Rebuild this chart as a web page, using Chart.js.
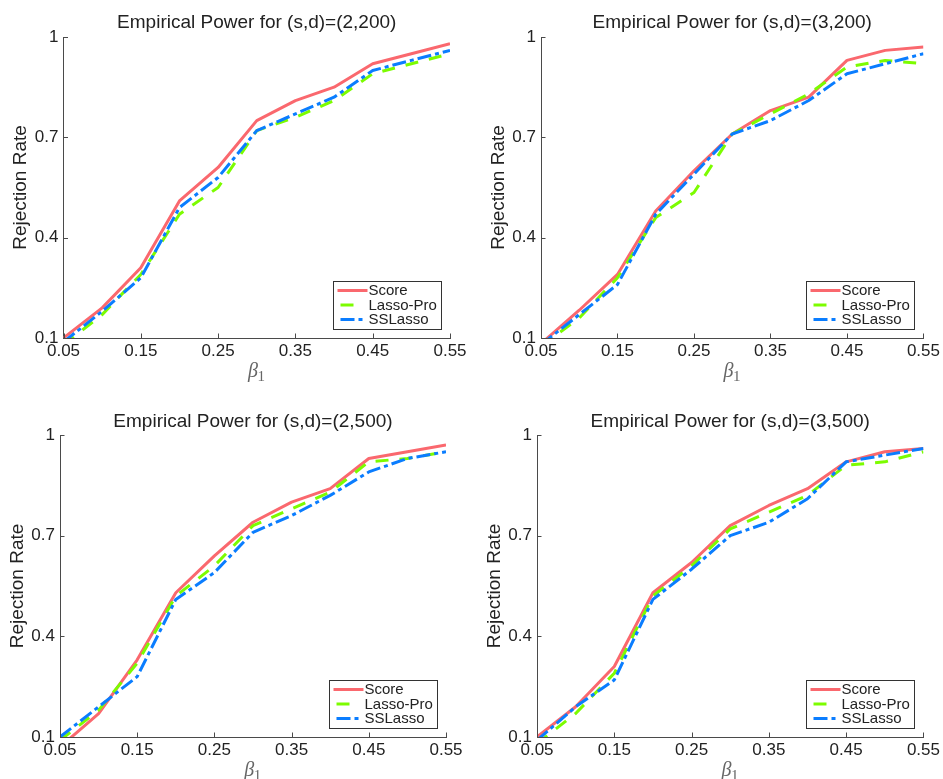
<!DOCTYPE html>
<html><head><meta charset="utf-8">
<script src="https://cdn.jsdelivr.net/npm/chart.js@4.4.0/dist/chart.umd.min.js"></script>
<style>
html,body{margin:0;padding:0;background:#fff;}
#wrap{position:relative;width:943px;height:779px;overflow:hidden;background:#fff;}
canvas{position:absolute;display:block;}
</style></head><body>
<div id="wrap">
<canvas id="c1"></canvas><canvas id="c2"></canvas><canvas id="c3"></canvas><canvas id="c4"></canvas>
</div>
<script>
// ---- data ----
const beta = [0.05, 0.10, 0.15, 0.20, 0.25, 0.30, 0.35, 0.40, 0.45, 0.50, 0.55];
const seriesNames = ['Score', 'Lasso-Pro', 'SSLasso'];
const titles = ['Empirical Power for (s,d)=(2,200)', 'Empirical Power for (s,d)=(3,200)',
                'Empirical Power for (s,d)=(2,500)', 'Empirical Power for (s,d)=(3,500)'];
const xTickValues = [0.05, 0.15, 0.25, 0.35, 0.45, 0.55];
const xTickLabels = ['0.05', '0.15', '0.25', '0.35', '0.45', '0.55'];
const yTickValues = [0.1, 0.4, 0.7, 1];
const yTickLabels = ['0.1', '0.4', '0.7', '1'];
const yLabel = 'Rejection Rate';

// (s,d)=(2,200)
const score1 = [0.10, 0.19, 0.31, 0.51, 0.61, 0.75, 0.81, 0.85, 0.92, 0.95, 0.98];
const lasso1 = [0.08, 0.17, 0.29, 0.47, 0.55, 0.72, 0.76, 0.81, 0.89, 0.92, 0.95];
const ss1    = [0.088, 0.18, 0.28, 0.49, 0.58, 0.72, 0.77, 0.82, 0.90, 0.93, 0.96];
// (s,d)=(3,200)
const score2 = [0.083, 0.183, 0.29, 0.48, 0.60, 0.71, 0.78, 0.82, 0.93, 0.96, 0.97];
const lasso2 = [0.075, 0.16, 0.28, 0.46, 0.535, 0.71, 0.77, 0.83, 0.91, 0.93, 0.92];
const ss2    = [0.08, 0.17, 0.26, 0.47, 0.59, 0.71, 0.75, 0.81, 0.89, 0.92, 0.95];
// (s,d)=(2,500)
const score3 = [0.07, 0.17, 0.33, 0.53, 0.64, 0.74, 0.80, 0.84, 0.93, 0.95, 0.97];
const lasso3 = [0.09, 0.18, 0.32, 0.52, 0.61, 0.73, 0.78, 0.83, 0.92, 0.93, 0.95];
const ss3    = [0.10, 0.19, 0.28, 0.51, 0.59, 0.71, 0.76, 0.82, 0.89, 0.93, 0.95];
// (s,d)=(3,500)
const score4 = [0.10, 0.19, 0.31, 0.53, 0.62, 0.73, 0.79, 0.84, 0.92, 0.95, 0.96];
const lasso4 = [0.08, 0.17, 0.29, 0.52, 0.61, 0.72, 0.77, 0.82, 0.91, 0.92, 0.95];
const ss4    = [0.09, 0.19, 0.27, 0.51, 0.60, 0.70, 0.74, 0.81, 0.92, 0.94, 0.96];

const panelData = [[score1, lasso1, ss1], [score2, lasso2, ss2], [score3, lasso3, ss3], [score4, lasso4, ss4]];

// ---- styles / geometry ----
const FONT = '"Liberation Sans", Arial, Helvetica, sans-serif';
const TEXT = '#222';
const AXIS = '#4a4a4a';
const lineStyles = [
  {color: 'rgb(250,104,110)', dash: [], width: 3},
  {color: 'rgb(124,252,0)', dash: [13, 11], width: 3},
  {color: 'rgb(10,125,255)', dash: [14, 4, 4, 4], width: 3}
];
const geo = [
  {left: 0,   top: 0,   w: 471, h: 390, ca: {l: 63.5, r: 450, t: 37, b: 338}, tc: 22.5},
  {left: 471, top: 0,   w: 472, h: 390, ca: {l: 70,   r: 457, t: 37, b: 338}, tc: 22.5},
  {left: 0,   top: 390, w: 471, h: 389, ca: {l: 60,   r: 446, t: 45, b: 347}, tc: 31.5},
  {left: 471, top: 390, w: 472, h: 389, ca: {l: 66,   r: 453, t: 45, b: 347}, tc: 31.5}
];

const decorPlugin = {
  id: 'decor',
  afterDatasetsDraw(chart) {
    const ctx = chart.ctx, ca = chart.chartArea;
    const xs = chart.scales.x, ys = chart.scales.y;
    ctx.save();
    // inward tick marks
    ctx.strokeStyle = AXIS; ctx.lineWidth = 1; ctx.setLineDash([]);
    ctx.beginPath();
    xs.ticks.forEach(t => {
      const px = Math.round(xs.getPixelForValue(t.value)) + 0.5;
      ctx.moveTo(px, ca.bottom); ctx.lineTo(px, ca.bottom - 4.5);
    });
    ys.ticks.forEach(t => {
      const py = Math.round(ys.getPixelForValue(t.value)) + 0.5;
      ctx.moveTo(ca.left, py); ctx.lineTo(ca.left + 4.5, py);
    });
    ctx.stroke();
    // legend box
    const bw = 108, bh = 48;
    const bx = Math.round(ca.right - 9 - bw) + 0.5, by = Math.round(ca.bottom - 9 - bh) + 0.5;
    ctx.fillStyle = '#fff';
    ctx.fillRect(bx, by, bw, bh);
    ctx.strokeStyle = '#333'; ctx.lineWidth = 1;
    ctx.strokeRect(bx, by, bw, bh);
    ctx.font = '15px ' + FONT;
    ctx.textBaseline = 'middle'; ctx.textAlign = 'left';
    chart.data.datasets.forEach((ds, i) => {
      const yy = by + 9 + i * 14.5;
      const dashed = (ds.borderDash || []).length > 0;
      ctx.strokeStyle = ds.borderColor; ctx.lineWidth = ds.borderWidth;
      ctx.setLineDash(ds.borderDash || []);
      ctx.lineDashOffset = -3;
      ctx.beginPath(); ctx.moveTo(bx + 4, yy); ctx.lineTo(bx + (dashed ? 31 : 34), yy); ctx.stroke();
      ctx.setLineDash([]); ctx.lineDashOffset = 0;
      ctx.fillStyle = TEXT;
      ctx.fillText(ds.label, bx + 35, yy + 0.5);
    });
    // x-axis label beta_1
    const cx = (ca.left + ca.right) / 2, cy = ca.bottom + 35;
    ctx.fillStyle = '#666';
    ctx.font = 'italic 20px "Liberation Serif", "DejaVu Serif", serif';
    ctx.textBaseline = 'alphabetic';
    const bwid = ctx.measureText('β').width;
    ctx.font = '15px "Liberation Serif", "DejaVu Serif", serif';
    const swid = ctx.measureText('1').width;
    const x0 = cx - (bwid + swid) / 2;
    ctx.font = 'italic 20px "Liberation Serif", "DejaVu Serif", serif';
    ctx.fillText('β', x0, cy + 4);
    ctx.font = '15px "Liberation Serif", "DejaVu Serif", serif';
    ctx.fillText('1', x0 + bwid - 0.5, cy + 8);
    ctx.restore();
  }
};

geo.forEach((g, p) => {
  const cv = document.getElementById('c' + (p + 1));
  cv.width = g.w; cv.height = g.h;
  cv.style.left = g.left + 'px'; cv.style.top = g.top + 'px';
  cv.style.width = g.w + 'px'; cv.style.height = g.h + 'px';
  const titleSize = 19, titleLH = titleSize * 1.2;
  const tPadTop = g.tc - titleLH / 2;
  const tPadBottom = g.ca.t - tPadTop - titleLH;
  const yTitleSize = 19, yTitleLH = yTitleSize * 1.2;
  const yTitleCenter = g.ca.l - 42.5;
  const datasets = panelData[p].map((vals, i) => ({
    label: seriesNames[i],
    data: beta.map((b, k) => ({x: b, y: vals[k]})),
    borderColor: lineStyles[i].color,
    backgroundColor: lineStyles[i].color,
    borderWidth: lineStyles[i].width,
    borderDash: lineStyles[i].dash,
    borderCapStyle: 'butt',
    borderJoinStyle: 'round',
    pointRadius: 0,
    tension: 0,
    fill: false,
    order: 3 - i,
    clip: {left: 0, top: 5, right: 0, bottom: 0}
  }));
  new Chart(cv, {
    type: 'line',
    data: {datasets},
    plugins: [decorPlugin],
    options: {
      responsive: false,
      animation: false,
      events: [],
      layout: {padding: {left: 0, top: 0, right: g.w - g.ca.r, bottom: 0}},
      plugins: {
        legend: {display: false},
        tooltip: {enabled: false},
        title: {
          display: true, text: titles[p], fullSize: false, color: TEXT,
          font: {family: FONT, size: titleSize, weight: 'normal', lineHeight: 1.2},
          padding: {top: tPadTop, bottom: tPadBottom}
        }
      },
      scales: {
        x: {
          type: 'linear', min: 0.05, max: 0.55, offset: false,
          afterBuildTicks: s => { s.ticks = xTickValues.map(v => ({value: v})); },
          afterFit: s => { s.height = g.h - g.ca.b; },
          ticks: {
            autoSkip: false, maxRotation: 0, padding: 3, color: TEXT,
            font: {family: FONT, size: 17},
            callback: v => { const i = xTickValues.findIndex(t => Math.abs(t - v) < 1e-9); return i >= 0 ? xTickLabels[i] : ''; }
          },
          grid: {display: false, drawTicks: false, drawOnChartArea: false},
          border: {display: true, color: AXIS, width: 1}
        },
        y: {
          type: 'linear', min: 0.1, max: 1,
          afterBuildTicks: s => { s.ticks = yTickValues.map(v => ({value: v})); },
          afterFit: s => { s.width = g.ca.l; },
          ticks: {
            autoSkip: false, padding: 5, color: TEXT,
            font: {family: FONT, size: 17},
            callback: v => { const i = yTickValues.findIndex(t => Math.abs(t - v) < 1e-9); return i >= 0 ? yTickLabels[i] : ''; }
          },
          grid: {display: false, drawTicks: false, drawOnChartArea: false},
          border: {display: true, color: AXIS, width: 1},
          title: {
            display: true, text: yLabel, color: TEXT,
            font: {family: FONT, size: yTitleSize, lineHeight: 1.2},
            padding: {top: yTitleCenter - yTitleLH / 2, bottom: 0}
          }
        }
      }
    }
  });
});
</script>
</body></html>
